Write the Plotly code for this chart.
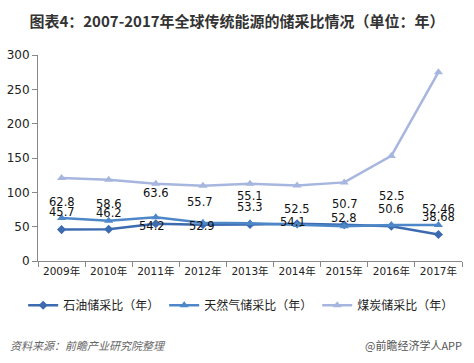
import plotly.graph_objects as go

years = ["2009年", "2010年", "2011年", "2012年", "2013年", "2014年", "2015年", "2016年", "2017年"]
oil = [45.7, 46.2, 54.2, 52.9, 53.3, 54.1, 52.8, 50.6, 38.68]
gas = [62.8, 58.6, 63.6, 55.7, 55.1, 52.5, 50.7, 52.5, 52.46]
coal = [121, 118.5, 112.5, 109.5, 112.5, 110, 114.5, 153, 275]
oil_labels = ["45.7", "46.2", "54.2", "52.9", "53.3", "54.1", "52.8", "50.6", "38.68"]
gas_labels = ["62.8", "58.6", "63.6", "55.7", "55.1", "52.5", "50.7", "52.5", "52.46"]
names = ["石油储采比（年）", "天然气储采比（年）", "煤炭储采比（年）"]

# label pixel offsets (style)
oil_shift = [18, 16, -2, -1, 17, 2, 7, 17, 17]
oil_xshift = [0, 0, -4, -1, 0, -4, 0, 0, 0]
gas_shift = [16, 17, 24, 21, 27, 16, 22, 29, 16]
gas_xshift = [0, 0, 0, -3, 0, 0, 1, 1, 0]

C_OIL = "#3c6bb0"
C_GAS = "#4e87c8"
C_COAL = "#a7b6de"
NUM_FONT = "DejaVu Sans, Noto Sans CJK SC"

fig = go.Figure()
fig.add_trace(go.Scatter(x=years, y=oil, name=names[0], mode="lines+markers",
                         line=dict(color=C_OIL, width=2.5),
                         marker=dict(symbol="diamond", size=7, color=C_OIL)))
fig.add_trace(go.Scatter(x=years, y=gas, name=names[1], mode="lines+markers",
                         line=dict(color=C_GAS, width=2.5),
                         marker=dict(symbol="triangle-up", size=8, color=C_GAS)))
fig.add_trace(go.Scatter(x=years, y=coal, name=names[2], mode="lines+markers",
                         line=dict(color=C_COAL, width=2.5),
                         marker=dict(symbol="triangle-up", size=8, color=C_COAL)))

ann = []
for i, y in enumerate(years):
    ann.append(dict(x=y, y=gas[i], text=gas_labels[i], showarrow=False,
                    yshift=gas_shift[i], xshift=gas_xshift[i],
                    font=dict(family=NUM_FONT, size=11.5, color="#111111")))
    ann.append(dict(x=y, y=oil[i], text=oil_labels[i], showarrow=False,
                    yshift=oil_shift[i], xshift=oil_xshift[i],
                    font=dict(family=NUM_FONT, size=11.5, color="#111111")))

ann.append(dict(xref="paper", yref="paper", x=-0.071, y=-0.406, xanchor="left", yanchor="middle",
                text="<i>资料来源：前瞻产业研究院整理</i>", showarrow=False,
                font=dict(family="Noto Sans CJK SC", size=11, color="#666666")))
ann.append(dict(xref="paper", yref="paper", x=1.005, y=-0.406, xanchor="right", yanchor="middle",
                text="@前瞻经济学人APP", showarrow=False,
                font=dict(family="Noto Sans CJK SC", size=11, color="#555555")))

fig.update_layout(
    width=474, height=363,
    margin=dict(l=38, r=12, t=55, b=102, autoexpand=False),
    paper_bgcolor="white", plot_bgcolor="white",
    title=dict(text="<b>图表4：2007-2017年全球传统能源的储采比情况（单位：年）</b>",
               x=0.5, xanchor="center", xref="container", y=1 - 22 / 363, yanchor="middle",
               font=dict(family="Noto Sans CJK SC", size=15, color="#333333")),
    showlegend=True,
    legend=dict(orientation="h", xref="paper", x=-0.035, xanchor="left", y=-0.215, yanchor="middle",
                font=dict(family="Noto Sans CJK SC", size=12, color="#222222"),
                itemwidth=30, tracegroupgap=0, bgcolor="rgba(0,0,0,0)"),
    annotations=ann,
    xaxis=dict(showline=True, linecolor="#888888", linewidth=1,
               ticks="outside", ticklen=5, tickcolor="#888888",
               tickson="boundaries", showgrid=False, tickangle=0, automargin=False,
               tickfont=dict(family=NUM_FONT, size=10.5, color="#222222"),
               range=[-0.5, 8.5]),
    yaxis=dict(range=[0, 300], dtick=50, showline=True, linecolor="#888888", linewidth=1,
               ticks="outside", ticklen=5, tickcolor="#888888", showgrid=False,
               zeroline=False, automargin=False,
               tickfont=dict(family=NUM_FONT, size=12, color="#222222")),
)

fig.write_html("out.html", config={"displayModeBar": False},
               post_script="document.body.style.margin='0';document.body.style.overflow='hidden';")
